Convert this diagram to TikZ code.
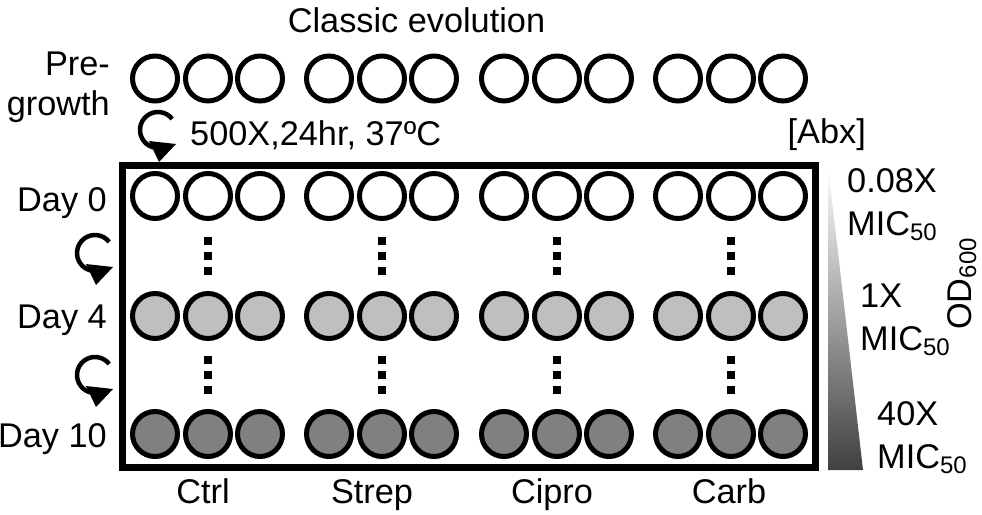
\documentclass[tikz,border=0pt]{standalone}
\usepackage{fontspec}
\setmainfont{Liberation Sans}
\newcommand{\subn}[1]{\raisebox{-5pt}{\fontsize{24}{24}\selectfont #1}}
\begin{document}
\begin{tikzpicture}[x=1pt,y=-1pt,
  lab/.style={inner sep=0pt, font=\fontsize{34.3}{40}\selectfont},
  well/.style={circle, draw=black, line width=5pt, minimum size=45pt, inner sep=0pt},
  dotsq/.style={fill=black, inner sep=0pt, minimum size=8pt},
  cyc/.style={line width=4.5pt}]
\useasboundingbox (0,0) rectangle (982,514);

% frame
\draw[line width=7pt] (122,165) rectangle (815,467);

% wells
\foreach \g/\gx in {1/155,2/329,3/504,4/678} {
  \foreach \k/\dx in {1/0,2/53,3/105} {
    \node[well, fill=white] (p\g\k) at (\gx+\dx,78.5) {};
    \node[well, fill=white] (a\g\k) at (\gx+\dx,196) {};
    \node[well, fill=black!25] (b\g\k) at (\gx+\dx,316) {};
    \node[well, fill=black!50] (c\g\k) at (\gx+\dx,434) {};
  }
  \foreach \i/\yy in {1/241,2/256,3/271} {
    \node[dotsq] (u\g\i) at (\gx+53,\yy) {};
  }
  \foreach \i/\yy in {1/360,2/375,3/390} {
    \node[dotsq] (l\g\i) at (\gx+53,\yy) {};
  }
}

% circular arrows
\foreach \n/\cx/\cy in {0/158/130,1/95/253,2/95/375} {
  \coordinate (cy\n) at (\cx,\cy);
  \draw[cyc] (cy\n) ++(-38:18) arc[start angle=-38, end angle=-262, radius=18];
  \fill (\cx-9,\cy+11) -- (\cx+18,\cy+14) -- (\cx+1,\cy+32) -- cycle;
}

% gradient wedge
\shade[top color=white, middle color=black!13, bottom color=black!75]
  (828,165) -- (828,470) -- (863,470) -- cycle;

% texts
\node[lab, anchor=base] (title) at (416.5,32) {Classic evolution};
\node[lab, anchor=base east] (pre) at (110,75) {Pre-};
\node[lab, anchor=base east] (growth) at (110,115) {growth};
\node[lab, anchor=base west] (cond) at (190,145) {500X,24hr, 37ºC};
\node[lab, anchor=base east] (d0) at (107,211) {Day 0};
\node[lab, anchor=base east] (d4) at (107,328) {Day 4};
\node[lab, anchor=base east] (d10) at (107,447) {Day 10};
\node[lab, anchor=base east] (abx) at (866,143) {[Abx]};
\node[lab, anchor=base west] (t1) at (847,192) {0.08X};
\node[lab, anchor=base west] (m1) at (847,235) {MIC\subn{50}};
\node[lab, anchor=base west] (t2) at (860,307) {1X};
\node[lab, anchor=base west] (m2) at (860,350) {MIC\subn{50}};
\node[lab, anchor=base west] (t3) at (877,425) {40X};
\node[lab, anchor=base west] (m3) at (877,468) {MIC\subn{50}};
\node[lab, anchor=base, rotate=90] (od) at (971,284) {OD\subn{600}};
\node[lab, anchor=base] (ctrl) at (203,503) {Ctrl};
\node[lab, anchor=base] (strep) at (372,503) {Strep};
\node[lab, anchor=base] (cipro) at (552,503) {Cipro};
\node[lab, anchor=base] (carb) at (729,503) {Carb};
\end{tikzpicture}
\end{document}
